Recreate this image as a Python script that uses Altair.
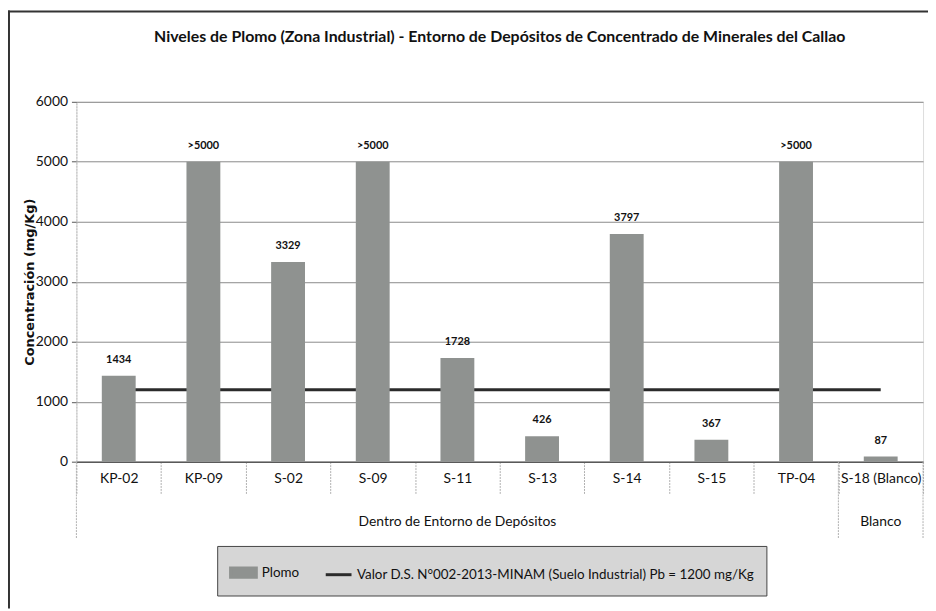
import altair as alt
import pandas as pd

# ---- data ----
categorias = ["KP-02", "KP-09", "S-02", "S-09", "S-11", "S-13", "S-14", "S-15", "TP-04", "S-18 (Blanco)"]
valores = [1434, 5000, 3329, 5000, 1728, 426, 3797, 367, 5000, 87]
etiquetas = ["1434", ">5000", "3329", ">5000", "1728", "426", "3797", "367", ">5000", "87"]
limite = 1200
serie_barras = "Plomo"
serie_linea = "Valor D.S. N°002-2013-MINAM (Suelo Industrial) Pb = 1200 mg/Kg"
grupo_nombres = ["Dentro de Entorno de Depósitos", "Blanco"]
grupo_centro = ["S-11", "S-18 (Blanco)"]
grupo_inicio = ["KP-02", "S-18 (Blanco)"]
grupo_fin = ["S-18 (Blanco)"]
y_ticks = [0, 1000, 2000, 3000, 4000, 5000, 6000]
titulo = "Niveles de Plomo (Zona Industrial) - Entorno de Depósitos de Concentrado de Minerales del Callao"
titulo_y = "Concentración (mg/Kg)"

df_barras = pd.DataFrame({"cat": categorias, "valor": valores, "etiqueta": etiquetas,
                          "serie": [serie_barras] * len(categorias)})
df_linea = pd.DataFrame({"cat": categorias, "valor": [limite] * len(categorias),
                         "serie": [serie_linea] * len(categorias)})
df_grupos = pd.DataFrame({"cat": grupo_centro, "nombre": grupo_nombres})
df_sep_ini = pd.DataFrame({"cat": grupo_inicio})
df_sep_fin = pd.DataFrame({"cat": grupo_fin})

FONT = "Lato"
W, H = 854, 363
BAR = "#8f9290"
LINE = "#2b2b2b"

xscale = alt.Scale(domain=categorias, paddingInner=0, paddingOuter=0)
yscale = alt.Scale(domain=[0, 6000], nice=False)

x_axis = alt.Axis(title=None, labelAngle=0, tickBand="extent", tickSize=32,
                  tickColor="#b0b0b0", tickWidth=1, tickDash=[2, 1], labelPadding=-22,
                  domain=True, domainColor="#333", grid=False,
                  labelFont=FONT, labelFontSize=14, labelColor="#111")
y_axis = alt.Axis(values=y_ticks, format="d", title=titulo_y, titleFont="DejaVu Sans",
                  titleFontSize=13, titleFontWeight="bold", titleColor="#111", titlePadding=-1,
                  labelFont=FONT, labelFontSize=14, labelColor="#111", labelPadding=4,
                  tickSize=5, tickColor="#555", domain=True, domainColor="#bbb",
                  domainDash=[2, 1], grid=True, gridColor="#8a8a8a", gridWidth=1)

color_scale = alt.Scale(domain=[serie_barras, serie_linea], range=[BAR, LINE])
legend = alt.Legend(
    title=None, orient="none", legendX=142, legendY=448, direction="horizontal",
    fillColor="#d6d6d6", strokeColor="#444", padding=12,
    labelFont=FONT, labelFontSize=13.5, labelColor="#111", labelLimit=600,
    symbolSize=676, columnPadding=20, labelOffset=4, symbolStrokeWidth=3,
    symbolType=alt.ExprRef("datum.value === 'Plomo' ? 'M-1,-0.36H1V0.36H-1Z' : 'stroke'"),
    symbolFillColor=alt.ExprRef("datum.value === 'Plomo' ? '%s' : 'transparent'" % BAR),
    symbolStrokeColor=alt.ExprRef("datum.value === 'Plomo' ? 'transparent' : '%s'" % LINE),
)

linea = alt.Chart(df_linea).mark_line(strokeWidth=3).encode(
    x=alt.X("cat:N", scale=xscale, axis=x_axis, sort=categorias),
    y=alt.Y("valor:Q", scale=yscale, axis=y_axis),
    color=alt.Color("serie:N", scale=color_scale, legend=legend),
)

barras = alt.Chart(df_barras).mark_bar(width=alt.RelativeBandSize(0.4), opacity=1).encode(
    x=alt.X("cat:N", scale=xscale, sort=categorias),
    y=alt.Y("valor:Q", scale=yscale),
    color=alt.Color("serie:N", scale=color_scale, legend=legend),
)

textos = alt.Chart(df_barras).mark_text(dy=-11, baseline="bottom", font=FONT, fontSize=11,
                                         fontWeight="bold", color="#111").encode(
    x=alt.X("cat:N", scale=xscale, sort=categorias),
    y=alt.Y("valor:Q", scale=yscale),
    text="etiqueta:N",
)

grupos = alt.Chart(df_grupos).mark_text(baseline="middle", font=FONT, fontSize=14,
                                        color="#111").encode(
    x=alt.X("cat:N", scale=xscale, sort=categorias),
    y=alt.value(H + 61),
    text="nombre:N",
)

sep_ini = alt.Chart(df_sep_ini).mark_rule(color="#b0b0b0", strokeWidth=1, strokeDash=[2, 1]).encode(
    x=alt.X("cat:N", scale=xscale, sort=categorias, bandPosition=0),
    y=alt.value(H), y2=alt.value(H + 77),
)
sep_fin = alt.Chart(df_sep_fin).mark_rule(color="#b0b0b0", strokeWidth=1, strokeDash=[2, 1]).encode(
    x=alt.X("cat:N", scale=xscale, sort=categorias, bandPosition=1),
    y=alt.value(H), y2=alt.value(H + 77),
)

# outer frame of the original picture (top and left edges)
marco_sup = alt.Chart(df_grupos.head(1)).mark_rule(color="#333", strokeWidth=2, clip=False).encode(
    x=alt.value(-69), x2=alt.value(W + 5), y=alt.value(-91),
)
marco_izq = alt.Chart(df_grupos.head(1)).mark_rule(color="#333", strokeWidth=2, clip=False).encode(
    x=alt.value(-68), y=alt.value(-92), y2=alt.value(H + 148),
)

chart = alt.layer(linea, barras, textos, grupos, sep_ini, sep_fin, marco_sup, marco_izq).properties(
    width=W, height=H,
    title=alt.TitleParams(titulo, font=FONT, fontSize=16, fontWeight="bold", color="#111",
                          anchor="middle", frame="group", offset=-36),
    autosize=alt.AutoSizeParams(type="none"),
    padding={"left": 69, "top": 92, "right": 5, "bottom": 148},
).configure_view(stroke="#555", strokeWidth=1).configure(background="white")

chart.save("out.html", embed_options={"renderer": "svg", "actions": False})
